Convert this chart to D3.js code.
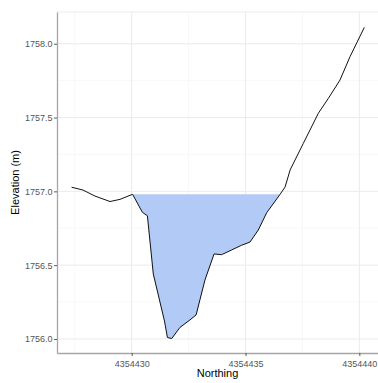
<!DOCTYPE html>
<html>
<head>
<meta charset="utf-8">
<script src="https://cdn.jsdelivr.net/npm/d3@7"></script>
<style>
  body { margin: 0; background: #fff; }
  text { font-family: "Liberation Sans", Arial, sans-serif; }
</style>
</head>
<body>
<svg id="viz"></svg>
<script>
const width = 378
const height = 383

// cross-section profile (offset from 4354430 m, elevation m)
const northingOffset = [-2.64, -2.14, -1.61, -0.95, -0.51, 0.04, 0.47, 0.69, 0.95, 1.44,
  1.57, 1.76, 2.12, 2.56, 2.83, 3.22, 3.62, 3.95, 4.39, 4.83,
  5.20, 5.56, 5.93, 6.52, 6.74, 6.96, 7.54, 8.20, 8.64, 9.15,
  9.59, 10.22]
const elevation = [1757.028, 1757.009, 1756.968, 1756.931, 1756.946, 1756.98, 1756.858, 1756.835, 1756.44, 1756.122,
  1756.010, 1756.003, 1756.078, 1756.129, 1756.163, 1756.40, 1756.576, 1756.571, 1756.603, 1756.635,
  1756.657, 1756.738, 1756.855, 1756.98, 1757.03, 1757.145, 1757.325, 1757.529, 1757.63, 1757.754,
  1757.912, 1758.111]
const waterLevel = 1756.98
const xTicks = [4354430, 4354435, 4354440]
const xMinor = [4354427.5, 4354432.5, 4354437.5]
const yTicks = [1756.0, 1756.5, 1757.0, 1757.5, 1758.0]
const yMinor = [1756.25, 1756.75, 1757.25, 1757.75]

const data = northingOffset.map((d, i) => ({ n: 4354430 + d, e: elevation[i] }))

const margin = { top: 12, left: 57, right: 0, bottom: 30 }
const x = d3.scaleLinear()
  .domain([4354426.72, 4354440.82])
  .range([margin.left, width - margin.right])
const y = d3.scaleLinear()
  .domain([1755.905, 1758.215])
  .range([height - margin.bottom, margin.top])

const svg = d3.select('#viz').attr('width', width).attr('height', height)

// grid
const grid = svg.append('g')
grid.selectAll('.xminor').data(xMinor).join('line')
  .attr('x1', (d) => x(d)).attr('x2', (d) => x(d))
  .attr('y1', y.range()[0]).attr('y2', y.range()[1])
  .attr('stroke', '#f3f3f3').attr('stroke-width', 0.6)
grid.selectAll('.yminor').data(yMinor).join('line')
  .attr('y1', (d) => y(d)).attr('y2', (d) => y(d))
  .attr('x1', x.range()[0]).attr('x2', x.range()[1])
  .attr('stroke', '#f3f3f3').attr('stroke-width', 0.6)
grid.selectAll('.xmajor').data(xTicks).join('line')
  .attr('x1', (d) => x(d)).attr('x2', (d) => x(d))
  .attr('y1', y.range()[0]).attr('y2', y.range()[1])
  .attr('stroke', '#ebebeb').attr('stroke-width', 1)
grid.selectAll('.ymajor').data(yTicks).join('line')
  .attr('y1', (d) => y(d)).attr('y2', (d) => y(d))
  .attr('x1', x.range()[0]).attr('x2', x.range()[1])
  .attr('stroke', '#ebebeb').attr('stroke-width', 1)

// faint top edge of the panel
svg.append('line')
  .attr('x1', x.range()[0]).attr('x2', x.range()[1])
  .attr('y1', y.range()[1]).attr('y2', y.range()[1])
  .attr('stroke', '#ebebeb').attr('stroke-width', 1)

// water fill
const wet = data.filter((d) => d.e <= waterLevel + 1e-9 && d.n >= 4354430)
svg.append('path')
  .datum(wet)
  .attr('fill', '#b1caf6')
  .attr('d', d3.area().x((d) => x(d.n)).y0(y(waterLevel)).y1((d) => y(d.e)))

// profile line
svg.append('path')
  .datum(data)
  .attr('fill', 'none')
  .attr('stroke', '#111')
  .attr('stroke-width', 1)
  .attr('d', d3.line().x((d) => x(d.n)).y((d) => y(d.e)))

// axes
const xAxis = svg.append('g')
  .attr('transform', `translate(0, ${y.range()[0]})`)
  .call(d3.axisBottom(x).tickValues(xTicks).tickFormat(d3.format('d')).tickSize(3).tickSizeOuter(0))
const yAxis = svg.append('g')
  .attr('transform', `translate(${x.range()[0]}, 0)`)
  .call(d3.axisLeft(y).tickValues(yTicks).tickFormat(d3.format('.1f')).tickSize(3).tickSizeOuter(0))

;[xAxis, yAxis].forEach((a) => {
  a.select('.domain').attr('stroke', '#a6a6a6').attr('stroke-width', 1.3)
  a.selectAll('.tick line').attr('stroke', '#333').attr('stroke-width', 0.8)
  a.selectAll('.tick text').attr('fill', '#555').attr('font-size', 9)
    .attr('font-family', '"Liberation Sans", Arial, sans-serif')
})
xAxis.selectAll('.tick text').attr('dy', '0.9em')
yAxis.selectAll('.tick text').attr('x', -4.5)

// axis titles
svg.append('text')
  .attr('x', (x.range()[0] + x.range()[1]) / 2)
  .attr('y', 377)
  .attr('text-anchor', 'middle')
  .attr('font-size', 11)
  .attr('fill', '#000')
  .text('Northing')
svg.append('text')
  .attr('transform', `translate(19, ${(y.range()[0] + y.range()[1]) / 2}) rotate(-90)`)
  .attr('text-anchor', 'middle')
  .attr('font-size', 11)
  .attr('fill', '#000')
  .text('Elevation (m)')
</script>
</body>
</html>
